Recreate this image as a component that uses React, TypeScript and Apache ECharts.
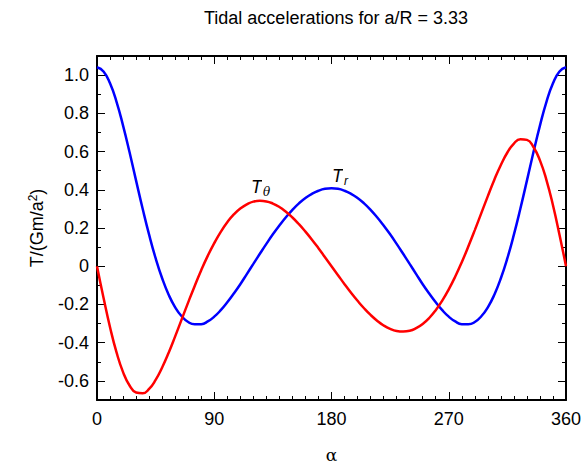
import React, { useEffect, useRef } from "react";
import * as echarts from "echarts";

const title = "Tidal accelerations for a/R = 3.33";

const alpha = [
  0, 5, 10, 15, 20, 25, 30, 35, 40, 45, 50, 55, 60, 65, 70, 75, 80, 85, 90,
  95, 100, 105, 110, 115, 120, 125, 130, 135, 140, 145, 150, 155, 160, 165, 170, 175, 180,
  185, 190, 195, 200, 205, 210, 215, 220, 225, 230, 235, 240, 245, 250, 255, 260, 265, 270,
  275, 280, 285, 290, 295, 300, 305, 310, 315, 320, 325, 330, 335, 340, 345, 350, 355, 360,
];

const tRadial = [
  1.041, 1.019, 0.957, 0.86, 0.736, 0.596, 0.448, 0.302, 0.165, 0.042, -0.063, -0.149,
  -0.215, -0.262, -0.292, -0.304, -0.303, -0.289, -0.264, -0.23, -0.189, -0.143, -0.094,
  -0.041, 0.012, 0.065, 0.117, 0.167, 0.213, 0.256, 0.295, 0.329, 0.357, 0.379, 0.395,
  0.405, 0.408,
  0.405, 0.395, 0.379, 0.357, 0.329, 0.295, 0.256, 0.213, 0.167, 0.117, 0.065, 0.012,
  -0.041, -0.094, -0.143, -0.189, -0.23, -0.264, -0.289, -0.303, -0.304, -0.292, -0.262,
  -0.215, -0.149, -0.063, 0.042, 0.165, 0.302, 0.448, 0.596, 0.736, 0.86, 0.957, 1.019,
  1.041,
];

const tTheta = [
  0, -0.165, -0.319, -0.451, -0.554, -0.624, -0.661, -0.665, -0.642, -0.595, -0.53,
  -0.453, -0.367, -0.278, -0.189, -0.103, -0.021, 0.054, 0.121, 0.18, 0.23, 0.271, 0.302,
  0.324, 0.338, 0.342, 0.339, 0.328, 0.31, 0.285, 0.255, 0.22, 0.181, 0.139, 0.094, 0.047,
  0,
  -0.047, -0.094, -0.139, -0.181, -0.22, -0.255, -0.285, -0.31, -0.328, -0.339, -0.342,
  -0.338, -0.324, -0.302, -0.271, -0.23, -0.18, -0.121, -0.054, 0.021, 0.103, 0.189,
  0.278, 0.367, 0.453, 0.53, 0.595, 0.642, 0.665, 0.661, 0.624, 0.554, 0.451, 0.319,
  0.165, 0,
];

const yMajor = [-0.6, -0.4, -0.2, 0, 0.2, 0.4, 0.6, 0.8, 1.0];
const yMinor = [-0.7, -0.5, -0.3, -0.1, 0.1, 0.3, 0.5, 0.7, 0.9, 1.1];

const FONT = "'Liberation Sans', Arial, sans-serif";

export default function App() {
  const ref = useRef<HTMLDivElement>(null);

  useEffect(() => {
    if (!ref.current) return;
    const chart = echarts.init(ref.current, null, { renderer: "svg" });

    const lineStyle = { color: "#000", width: 2 };
    const tickStyle = { color: "#000", width: 1 };

    const xBase = (pos: "bottom" | "top", showLabel: boolean) => ({
      type: "value",
      position: pos,
      min: 0,
      max: 360,
      interval: 90,
      axisLine: { show: true, onZero: false, lineStyle },
      axisTick: { show: true, inside: true, length: 8, lineStyle: tickStyle },
      minorTick: { show: true, splitNumber: 9, length: 4, lineStyle: tickStyle },
      axisLabel: {
        show: showLabel,
        margin: 10,
        color: "#000",
        fontSize: 18,
        fontFamily: FONT,
        hideOverlap: false,
      },
      splitLine: { show: false },
      minorSplitLine: { show: false },
    });

    const yBase = (pos: "left" | "right", values: number[], len: number, main: boolean) => ({
      type: "value",
      position: pos,
      min: -0.7,
      max: 1.1,
      axisLine: { show: main, onZero: false, lineStyle },
      axisTick: { show: true, inside: true, length: len, customValues: values, lineStyle: tickStyle },
      axisLabel: {
        show: main && pos === "left",
        customValues: values,
        margin: 8,
        color: "#000",
        fontSize: 18,
        fontFamily: FONT,
        formatter: (v: number) => (Math.abs(v) < 1e-9 ? "0" : v.toFixed(1)),
      },
      splitLine: { show: false },
    });

    const xData = alpha.map((a, i) => [a, tRadial[i]]);
    const tData = alpha.map((a, i) => [a, tTheta[i]]);

    chart.setOption({
      animation: false,
      backgroundColor: "#fff",
      title: {
        text: title,
        left: 331,
        textAlign: "center",
        top: 4,
        textStyle: { fontSize: 18, fontWeight: "normal", color: "#000", fontFamily: FONT },
      },
      grid: {
        left: 97,
        right: 17,
        top: 56,
        bottom: 68,
        containLabel: false,
        outerBoundsMode: "none",
      },
      xAxis: [
        {
          ...xBase("bottom", true),
          name: "α",
          nameLocation: "middle",
          nameGap: 46,
          nameTextStyle: { fontSize: 17, color: "#000", fontFamily: "'DejaVu Serif', serif" },
        },
        xBase("top", false),
      ],
      yAxis: [
        {
          ...yBase("left", yMajor, 8, true),
          name: "{n|T/(Gm/a}{p|2}{n|)}",
          nameLocation: "middle",
          nameRotate: 90,
          nameGap: 50,
          nameTextStyle: {
            color: "#000",
            fontFamily: FONT,
            rich: {
              n: { fontSize: 18, fontFamily: FONT, color: "#000" },
              p: { fontSize: 12, fontFamily: FONT, color: "#000", verticalAlign: "top", padding: [0, 0, 8, 0] },
            },
          },
        },
        yBase("left", yMinor, 4, false),
        yBase("right", yMajor, 8, true),
        yBase("right", yMinor, 4, false),
      ],
      series: [
        {
          name: "Tr",
          type: "line",
          data: xData,
          xAxisIndex: 0,
          yAxisIndex: 0,
          showSymbol: false,
          smooth: true,
          lineStyle: { color: "#0000ff", width: 2.5 },
          z: 2,
        },
        {
          name: "Ttheta",
          type: "line",
          data: tData,
          xAxisIndex: 0,
          yAxisIndex: 0,
          showSymbol: false,
          smooth: true,
          lineStyle: { color: "#ff0000", width: 2.5 },
          z: 2,
        },
      ],
      graphic: [
        {
          type: "text",
          left: 251,
          top: 176,
          z: 100,
          style: {
            text: "{t|T}{s|θ}",
            rich: {
              t: { fontSize: 18, fontStyle: "italic", fontFamily: FONT, fill: "#000" },
              s: {
                fontSize: 12,
                fontStyle: "italic",
                fontFamily: "'DejaVu Serif', serif",
                fill: "#000",
                backgroundColor: "#fff",
                padding: [10, 2, 0, 1],
                verticalAlign: "bottom",
              },
            },
          },
        },
        {
          type: "text",
          left: 332,
          top: 165,
          z: 100,
          style: {
            text: "{t|T}{s|r}",
            rich: {
              t: { fontSize: 18, fontStyle: "italic", fontFamily: FONT, fill: "#000" },
              s: {
                fontSize: 12,
                fontStyle: "italic",
                fontFamily: FONT,
                fill: "#000",
                backgroundColor: "#fff",
                padding: [10, 2, 0, 1],
                verticalAlign: "bottom",
              },
            },
          },
        },
      ],
    });

    return () => chart.dispose();
  }, []);

  return (
    <div
      ref={ref}
      style={{ position: "absolute", left: 0, top: 0, width: 583, height: 468 }}
    />
  );
}
